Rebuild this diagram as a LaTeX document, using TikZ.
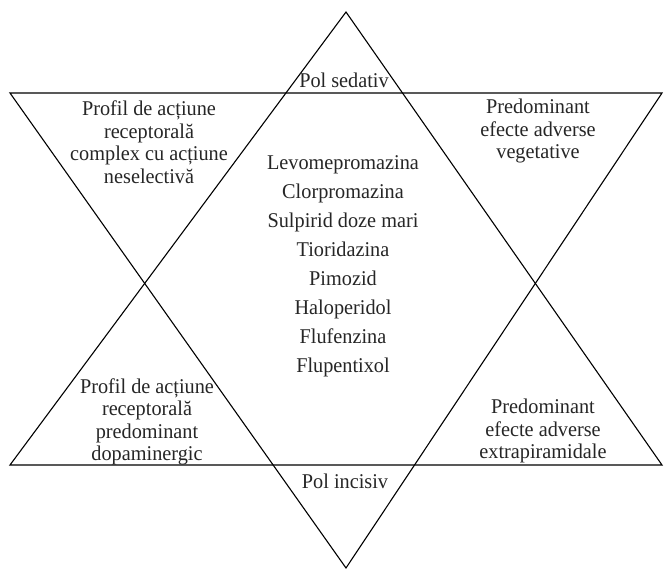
\documentclass[tikz,border=0pt]{standalone}
\usepackage{fontspec}
\setmainfont[FakeStretch=0.965]{Liberation Serif}
\begin{document}
\begin{tikzpicture}[x=1pt,y=-1pt,
  edge/.style={draw=black,line width=1.1pt,line join=miter},
  corner/.style={align=center,font=\fontsize{21}{22.5}\selectfont,inner sep=0pt,text=black!85},
  pole/.style={font=\fontsize{21}{24}\selectfont,inner sep=0pt,text=black!85},
  druglist/.style={align=center,font=\fontsize{21}{29}\selectfont,inner sep=0pt,text=black!85}]
\useasboundingbox (0,0) rectangle (665,570);
% star of David: upward and downward triangles
\coordinate (upTop) at (346,12);
\coordinate (upL) at (10,465);
\coordinate (upR) at (662,465);
\coordinate (dnL) at (10,93);
\coordinate (dnR) at (662,93);
\coordinate (dnBot) at (346,568);
\draw[edge] (upTop) -- (upR) -- (upL) -- cycle;
\draw[edge] (dnL) -- (dnR) -- (dnBot) -- cycle;
% labels
\node[pole] (sed) at (344,80) {Pol sedativ};
\node[pole] (inc) at (345,481) {Pol incisiv};
\node[corner] (tl) at (149,142) {Profil de acțiune\\receptorală\\complex cu acțiune\\neselectivă};
\node[corner] (tr) at (538,131) {Predominant\\efecte adverse\\vegetative};
\node[corner] (bl) at (147,422) {Profil de acțiune\\receptorală\\predominant\\dopaminergic};
\node[corner] (br) at (543,431) {Predominant\\efecte adverse\\extrapiramidale};
\node[druglist] (drugs) at (343,266) {Levomepromazina\\Clorpromazina\\Sulpirid doze mari\\Tioridazina\\Pimozid\\Haloperidol\\Flufenzina\\Flupentixol};
\end{tikzpicture}
\end{document}
